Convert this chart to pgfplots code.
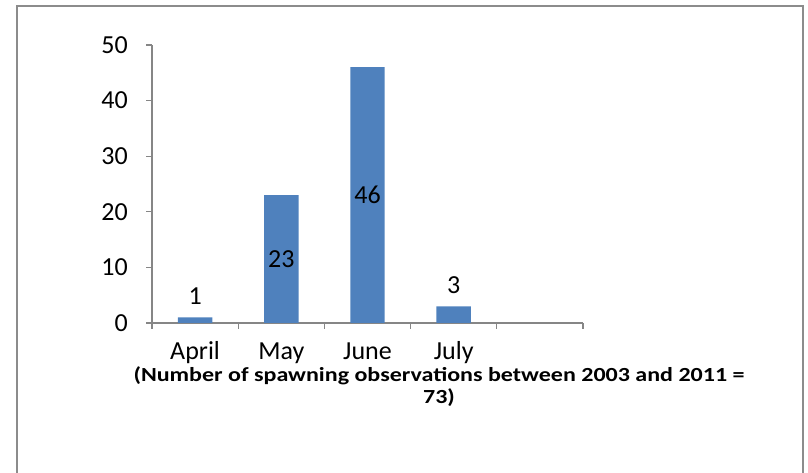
\documentclass[border=0pt]{standalone}
\usepackage{pgfplots}
\pgfplotsset{compat=1.18}
\usepackage{fontspec}
\setmainfont{Carlito}
\newfontfamily\titlefont{Carlito}[FakeStretch=1.2]
\definecolor{barblue}{HTML}{4F81BD}
\definecolor{axgray}{HTML}{868686}
\definecolor{framegray}{HTML}{8C8C8C}
\begin{document}
\fontsize{19.5}{23}\selectfont
\begin{tikzpicture}
\useasboundingbox (0,0) rectangle (606pt,354.75pt);
\draw[framegray, line width=1.2pt] (12.75pt,-10pt) rectangle (602.25pt,350.25pt);
\begin{axis}[
  at={(114pt,112.5pt)}, anchor=south west,
  scale only axis, width=323.25pt, height=208.5pt,
  xmin=-0.5, xmax=4.5, ymin=0, ymax=50,
  axis lines*=left,
  axis line style={axgray, line width=0.9pt},
  every tick/.style={axgray, line width=0.9pt},
  tick align=outside,
  major tick length=4.5pt,
  xtick={-0.5,0.5,1.5,2.5,3.5,4.5},
  x tick label as interval,
  xticklabels={April,May,June,July,{}},
  ytick={0,10,20,30,40,50},
  xticklabel style={anchor=base, yshift=-22.75pt},
  yticklabel style={xshift=-7pt},
  /pgf/number format/assume math mode=true,
  tick label style={font=\fontsize{19.5}{23}\selectfont},
  clip=false,
]
\addplot[ybar, bar width=0.4, bar shift=0pt, fill=barblue, draw=none,
  nodes near coords, nodes near coords style={font=\fontsize{19.5}{23}\selectfont, black, yshift=3pt}]
  coordinates {(0,1) (3,3)};
\addplot[ybar, bar width=0.4, bar shift=0pt, fill=barblue, draw=none]
  coordinates {(1,23) (2,46)};
\addplot[only marks, mark=none, nodes near coords, point meta=explicit symbolic,
  nodes near coords style={font=\fontsize{19.5}{23}\selectfont, black, anchor=center}]
  coordinates {(1,11.5)[23] (2,23)[46]};
\end{axis}
\node[align=center, font=\titlefont\bfseries\fontsize{15}{16.5}\selectfont] at (329.25pt,64.6pt)
  {(Number of spawning observations between 2003 and 2011 =\\73)};
\end{tikzpicture}
\end{document}
